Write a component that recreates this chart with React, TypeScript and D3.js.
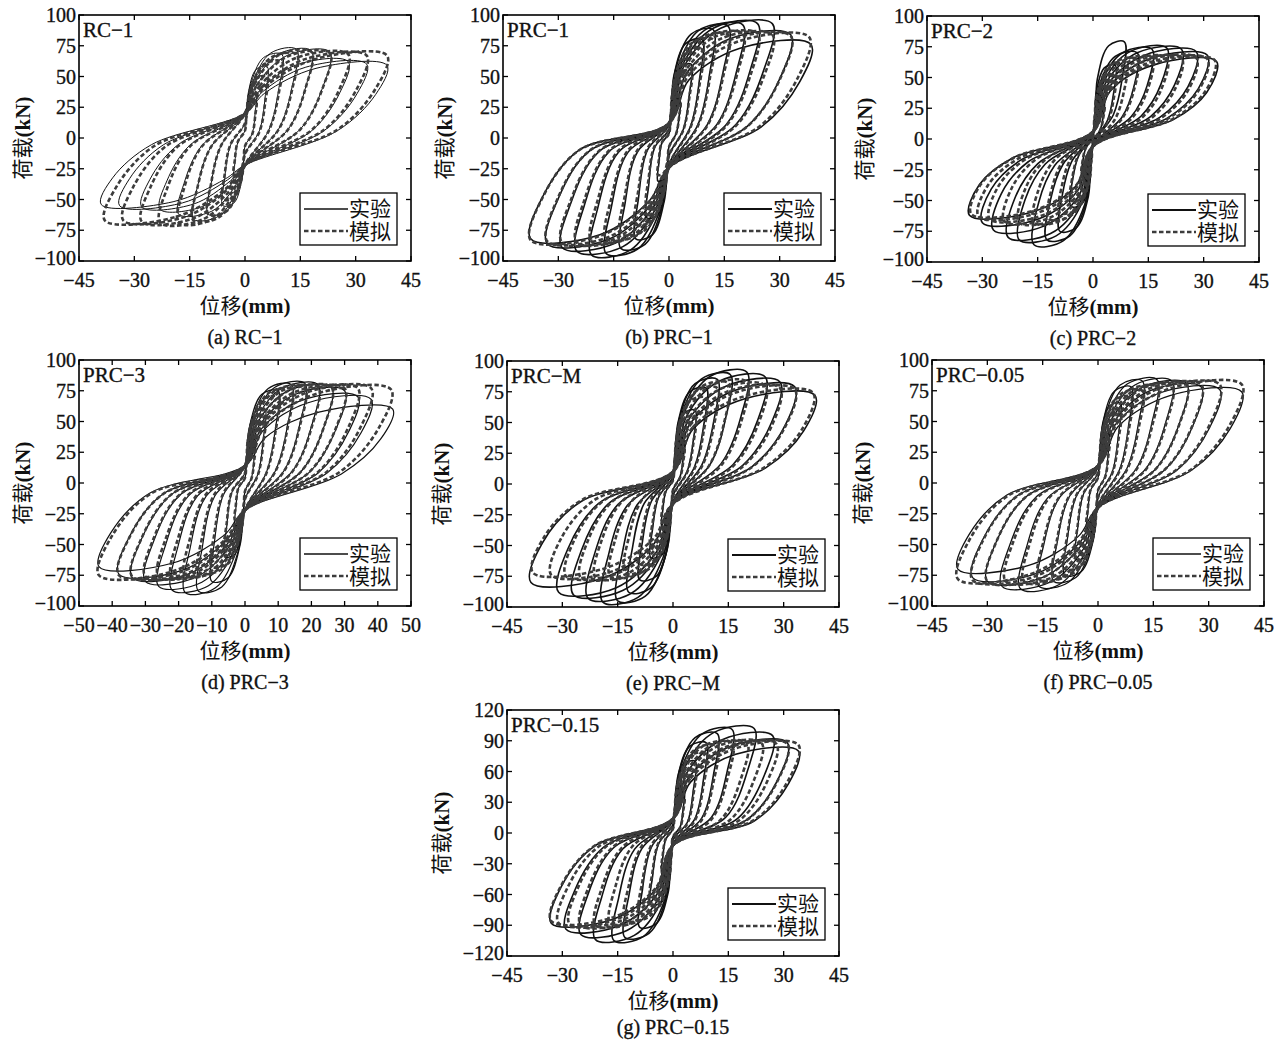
import React from 'react';
import * as d3 from 'd3';

// peak points per cycle, [displacement mm, load kN]; exp = 实验, sim = 模拟
const rc1ExpPos = [[3, 35], [6, 58], [10, 68], [14, 72], [18, 71], [23, 70], [28, 62], [33, 60], [38.5, 59]];
const rc1ExpNeg = [[-3, -35], [-6, -55], [-10, -62], [-14, -66], [-18, -62], [-23, -58], [-28, -56], [-34, -55], [-39, -54]];
const rc1SimPos = [[3, 30], [6, 50], [10, 62], [14, 68], [18, 70], [23, 69], [28, 68], [33, 67], [38.5, 67]];
const rc1SimNeg = [[-3, -30], [-6, -50], [-10, -62], [-14, -67], [-18, -69], [-23, -69], [-28, -68], [-33, -67], [-38, -67]];

const prc1ExpPos = [[3, 30], [6, 60], [9, 80], [12, 88], [16, 91], [20, 92], [24, 93], [28, 93], [33, 84], [38.5, 76]];
const prc1ExpNeg = [[-3, -35], [-6, -65], [-9, -82], [-13, -90], [-17, -94], [-21, -95], [-25, -92], [-29, -89], [-33, -86], [-37.5, -82]];
const prc1SimPos = [[3, 30], [6, 55], [9, 72], [12, 80], [16, 84], [20, 85], [24, 85], [28, 84], [33, 83], [38, 82]];
const prc1SimNeg = [[-3, -30], [-6, -55], [-9, -70], [-13, -78], [-17, -82], [-21, -84], [-25, -85], [-29, -85], [-33, -84], [-37.5, -83]];

const prc2ExpPos = [[3, 30], [6, 60], [8.5, 79], [12, 70], [16, 73], [20, 74], [24, 73], [28, 71], [31, 68], [33.5, 63]];
const prc2ExpNeg = [[-3, -30], [-6, -55], [-9, -75], [-12.5, -82], [-16, -86], [-20, -82], [-23, -80], [-27, -74], [-30, -68], [-33.5, -62]];
const prc2SimPos = [[3, 28], [6, 52], [9, 62], [12, 65], [16, 66], [20, 66], [24, 66], [28, 66], [31, 65], [33, 64]];
const prc2SimNeg = [[-3, -28], [-6, -50], [-9, -60], [-12, -65], [-16, -68], [-20, -68], [-24, -67], [-28, -65], [-31, -63], [-33, -61]];

const prc3ExpPos = [[3, 35], [6, 60], [10, 75], [14, 80], [18, 81], [22, 80], [26, 78], [30, 75], [34, 70], [38, 68], [44.5, 60]];
const prc3ExpNeg = [[-3, -35], [-6, -60], [-10, -80], [-14, -88], [-18, -89], [-22, -87], [-26, -84], [-30, -80], [-34, -77], [-38, -74], [-44, -68]];
const prc3SimPos = [[3, 30], [6, 55], [10, 70], [14, 76], [18, 78], [22, 78], [26, 78], [30, 77], [34, 77], [38, 77], [44, 76]];
const prc3SimNeg = [[-3, -30], [-6, -55], [-10, -68], [-14, -73], [-18, -75], [-22, -76], [-26, -76], [-30, -76], [-34, -76], [-38, -75], [-44, -75]];

const prcMExpPos = [[3, 35], [6, 60], [9, 78], [12, 85], [15.5, 89], [20, 91], [25, 87], [29, 83], [33, 79], [38.5, 72]];
const prcMExpNeg = [[-3, -35], [-6, -60], [-9, -78], [-12, -88], [-15, -95], [-19, -96], [-23, -93], [-27, -90], [-31, -88], [-38.5, -80]];
const prcMSimPos = [[3, 30], [6, 55], [9, 70], [12, 78], [15, 82], [20, 83], [25, 80], [29, 78], [33, 77], [38, 74]];
const prcMSimNeg = [[-3, -30], [-6, -52], [-9, -65], [-13, -72], [-17, -75], [-21, -76], [-25, -76], [-29, -75], [-33, -74], [-38, -72]];

const prc005ExpPos = [[3, 40], [6, 65], [9, 78], [12, 83], [16, 84], [20, 83], [24, 81], [28, 78], [33, 76], [39, 74]];
const prc005ExpNeg = [[-3, -40], [-6, -62], [-9, -75], [-12, -80], [-16, -84], [-21, -86], [-26, -84], [-30, -80], [-34, -77], [-38, -70]];
const prc005SimPos = [[3, 35], [6, 58], [9, 70], [12, 75], [16, 78], [20, 79], [24, 80], [28, 80], [33, 80], [39, 80]];
const prc005SimNeg = [[-3, -35], [-6, -58], [-9, -70], [-12, -75], [-16, -78], [-20, -80], [-25, -80], [-30, -80], [-34, -79], [-38, -78]];

const prc015ExpPos = [[3, 40], [6, 70], [9, 88], [12, 97], [16, 101], [22, 102], [27, 95], [31, 88], [34, 80]];
const prc015ExpNeg = [[-3, -40], [-6, -70], [-9, -92], [-13, -102], [-16, -105], [-21, -104], [-25, -99], [-29, -94], [-33, -88]];
const prc015SimPos = [[3, 35], [6, 62], [9, 78], [12, 85], [16, 88], [20, 88], [24, 88], [28, 87], [31, 87], [34, 86]];
const prc015SimNeg = [[-3, -35], [-6, -62], [-9, -78], [-13, -85], [-17, -88], [-21, -90], [-25, -90], [-28, -89], [-31, -88], [-33, -86]];

// load where the loops cross zero displacement [towards +, towards -]
const rc1Pinch = [20, -22];
const prc1Pinch = [12, -24];
const prc2Pinch = [6, -6];
const prc3Pinch = [14, -22];
const prcMPinch = [10, -16];
const prc005Pinch = [14, -20];
const prc015Pinch = [14, -12];

const xTicks45 = [-45, -30, -15, 0, 15, 30, 45];
const xTicks50 = [-50, -40, -30, -20, -10, 0, 10, 20, 30, 40, 50];
const yTicks100 = [-100, -75, -50, -25, 0, 25, 50, 75, 100];
const yTicks120 = [-120, -90, -60, -30, 0, 30, 60, 90, 120];

const serif = '"Liberation Serif", "Times New Roman", "Noto Sans CJK SC", serif';
const cjk = '"Liberation Serif", "Noto Sans CJK SC", serif';

const panels = [
  { id: 'a', name: 'RC-1', caption: '(a) RC-1', left: 79, top: 15, xt: xTicks45, yt: yTicks100, exp: [rc1ExpPos, rc1ExpNeg], sim: [rc1SimPos, rc1SimNeg], pinch: rc1Pinch, u2: 0.1, ylab: 56, expW: 1.0, capDy: 83 },
  { id: 'b', name: 'PRC-1', caption: '(b) PRC-1', left: 503, top: 15, xt: xTicks45, yt: yTicks100, exp: [prc1ExpPos, prc1ExpNeg], sim: [prc1SimPos, prc1SimNeg], pinch: prc1Pinch, u2: 0.12, ylab: 58, expW: 1.6, capDy: 83 },
  { id: 'c', name: 'PRC-2', caption: '(c) PRC-2', left: 927, top: 16, xt: xTicks45, yt: yTicks100, exp: [prc2ExpPos, prc2ExpNeg], sim: [prc2SimPos, prc2SimNeg], pinch: prc2Pinch, u2: 0.25, ylab: 62, expW: 1.6, capDy: 83 },
  { id: 'd', name: 'PRC-3', caption: '(d) PRC-3', left: 79, top: 360, xt: xTicks50, yt: yTicks100, exp: [prc3ExpPos, prc3ExpNeg], sim: [prc3SimPos, prc3SimNeg], pinch: prc3Pinch, u2: 0.12, ylab: 56, expW: 1.2, capDy: 83 },
  { id: 'e', name: 'PRC-M', caption: '(e) PRC-M', left: 507, top: 361, xt: xTicks45, yt: yTicks100, exp: [prcMExpPos, prcMExpNeg], sim: [prcMSimPos, prcMSimNeg], pinch: prcMPinch, u2: 0.18, ylab: 65, expW: 1.6, capDy: 83 },
  { id: 'f', name: 'PRC-0.05', caption: '(f) PRC-0.05', left: 932, top: 360, xt: xTicks45, yt: yTicks100, exp: [prc005ExpPos, prc005ExpNeg], sim: [prc005SimPos, prc005SimNeg], pinch: prc005Pinch, u2: 0.14, ylab: 69, expW: 1.3, capDy: 83 },
  { id: 'g', name: 'PRC-0.15', caption: '(g) PRC-0.15', left: 507, top: 710, xt: xTicks45, yt: yTicks120, exp: [prc015ExpPos, prc015ExpNeg], sim: [prc015SimPos, prc015SimNeg], pinch: prc015Pinch, u2: 0.15, ylab: 65, expW: 1.6, capDy: 78 },
];

const PW = 332;
const PH = 246;
const simColor = '#3c3c3c';

// key points of one cycle, closed loop through both peaks
function cyclePoints(pos: number[], neg: number[], pinch: number[], u2: number) {
  const [dp, pp] = pos;
  const [dn, pn] = neg;
  const k = Math.min(1, Math.min(dp, -dn) / 10);
  return [
    [0, pinch[0] * k],
    [dp * 0.14, pp * 0.62],
    [dp * 0.5, pp * 0.96],
    [dp, pp],
    [dp * 0.92, pp * 0.6],
    [dp * 0.65, pp * u2],
    [0, pinch[1] * k],
    [dn * 0.14, pn * 0.62],
    [dn * 0.5, pn * 0.96],
    [dn, pn],
    [dn * 0.92, pn * 0.6],
    [dn * 0.65, pn * u2],
  ];
}

const txt = { fill: '#111', stroke: '#111', strokeWidth: 0.35 };

function Panel({ p }: { p: any }) {
  const x = d3.scaleLinear().domain([p.xt[0], p.xt[p.xt.length - 1]]).range([0, PW]);
  const y = d3.scaleLinear().domain([p.yt[0], p.yt[p.yt.length - 1]]).range([PH, 0]);
  const line = d3
    .line<number[]>()
    .x((d) => x(d[0]))
    .y((d) => y(d[1]))
    .curve(d3.curveCatmullRomClosed.alpha(0.5));
  const fmt = d3.format('d');
  const tk = 5;

  const loops = (series: number[][][]) =>
    series[0].map((c, i) => line(cyclePoints(c, series[1][i], p.pinch, p.u2)) as string);

  const lx = PW - 14 - 97;
  const ly = PH - 16 - 52;

  return (
    <g transform={`translate(${p.left},${p.top})`}>
      <defs>
        <clipPath id={`clip-${p.id}`}>
          <rect x={0} y={0} width={PW} height={PH} />
        </clipPath>
      </defs>
      <g clipPath={`url(#clip-${p.id})`}>
        {loops(p.exp).map((d, i) => (
          <path key={`e${i}`} d={d} fill="none" stroke="#111" strokeWidth={p.expW} />
        ))}
        {loops(p.sim).map((d, i) => (
          <path key={`s${i}`} d={d} fill="none" stroke={simColor} strokeWidth={2.6} strokeDasharray="4.5 2.5" />
        ))}
      </g>
      <rect x={0} y={0} width={PW} height={PH} fill="none" stroke="#000" strokeWidth={1.6} />
      {p.xt.map((t: number) => (
        <g key={`x${t}`}>
          <line x1={x(t)} x2={x(t)} y1={PH} y2={PH - tk} stroke="#000" strokeWidth={1.3} />
          <line x1={x(t)} x2={x(t)} y1={0} y2={tk} stroke="#000" strokeWidth={1.3} />
          <text x={x(t)} y={PH + 26} textAnchor="middle" fontFamily={serif} fontSize={20} {...txt}>
            {fmt(t)}
          </text>
        </g>
      ))}
      {p.yt.map((t: number) => (
        <g key={`y${t}`}>
          <line x1={0} x2={tk} y1={y(t)} y2={y(t)} stroke="#000" strokeWidth={1.3} />
          <line x1={PW} x2={PW - tk} y1={y(t)} y2={y(t)} stroke="#000" strokeWidth={1.3} />
          <text x={-3} y={t === p.yt[0] ? y(t) - 3 : y(t)} dy="0.36em" textAnchor="end" fontFamily={serif} fontSize={20} {...txt}>
            {fmt(t)}
          </text>
        </g>
      ))}
      <text x={4} y={22} fontFamily={serif} fontSize={21} {...txt}>
        {p.name.replace('-', '−')}
      </text>
      <text
        transform={`translate(${-p.ylab},${PH / 2}) rotate(-90)`}
        textAnchor="middle"
        dy="0.35em"
        fontFamily={cjk}
        fontSize={21}
        fill="#111"
      >
        荷载<tspan fontWeight="bold">(kN)</tspan>
      </text>
      <text x={PW / 2} y={PH + 52} textAnchor="middle" fontFamily={cjk} fontSize={21} fill="#111">
        位移<tspan fontWeight="bold">(mm)</tspan>
      </text>
      <text x={PW / 2} y={PH + p.capDy} textAnchor="middle" fontFamily={serif} fontSize={20} {...txt}>
        {p.caption.replace('-', '−')}
      </text>
      <g transform={`translate(${lx},${ly})`}>
        <rect x={0} y={0} width={97} height={52} fill="#fff" stroke="#000" strokeWidth={1.3} />
        <line x1={4} x2={48} y1={16} y2={16} stroke="#111" strokeWidth={p.expW + 0.3} />
        <text x={49} y={23} fontFamily={cjk} fontSize={21} fill="#111">实验</text>
        <line x1={4} x2={48} y1={38} y2={38} stroke={simColor} strokeWidth={2.6} strokeDasharray="4.5 2.5" />
        <text x={49} y={46} fontFamily={cjk} fontSize={21} fill="#111">模拟</text>
      </g>
    </g>
  );
}

export default function App() {
  return (
    <svg
      width={1279}
      height={1043}
      style={{ position: 'absolute', left: 0, top: 0, background: '#fff', display: 'block' }}
    >
      <rect width={1279} height={1043} fill="#fff" />
      {panels.map((p) => (
        <Panel key={p.id} p={p} />
      ))}
    </svg>
  );
}
